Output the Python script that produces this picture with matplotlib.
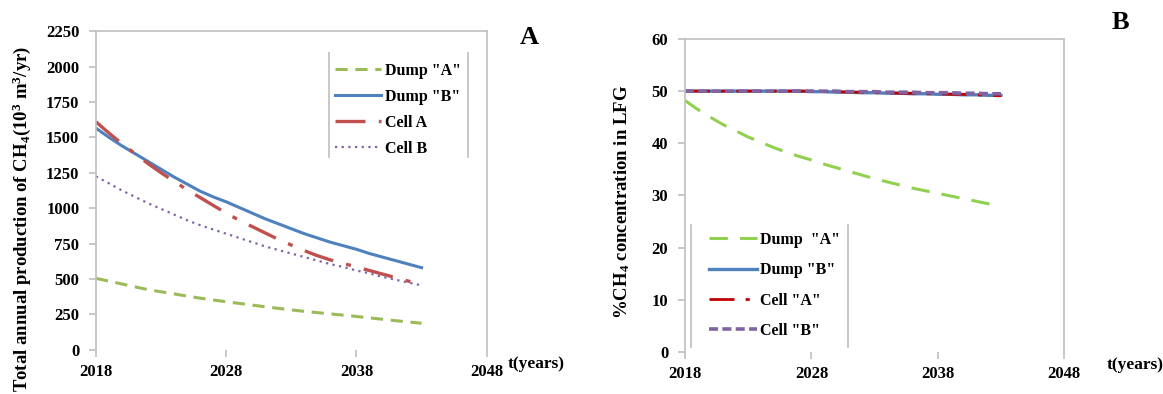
import matplotlib
matplotlib.use("Agg")
import matplotlib.pyplot as plt
from matplotlib.lines import Line2D

plt.rcParams['font.family'] = ['Liberation Serif', 'DejaVu Serif']
plt.rcParams['font.weight'] = 'bold'
plt.rcParams['mathtext.fontset'] = 'custom'
plt.rcParams['mathtext.rm'] = 'Liberation Serif:bold'
plt.rcParams['mathtext.it'] = 'Liberation Serif:bold'
plt.rcParams['mathtext.bf'] = 'Liberation Serif:bold'

years = list(range(2018, 2044))

# panel A: total annual CH4 production (10^3 m3/yr)
prod_dump_a = [505, 485, 465, 445, 425, 410, 395, 380, 365, 352, 340, 328, 316,
               304, 293, 282, 272, 263, 254, 245, 236, 226, 216, 206, 197, 188]
prod_dump_b = [1565, 1500, 1440, 1385, 1330, 1275, 1220, 1170, 1120, 1080, 1045,
               1005, 965, 925, 890, 855, 820, 790, 760, 735, 710, 680, 655, 630, 605, 580]
prod_cell_a = [1610, 1530, 1455, 1385, 1315, 1250, 1190, 1130, 1075, 1020, 965,
               915, 870, 825, 780, 740, 700, 665, 635, 610, 585, 560, 535, 510, 485, 460]
prod_cell_b = [1225, 1175, 1125, 1080, 1035, 995, 955, 915, 880, 850, 820, 790,
               760, 730, 705, 680, 655, 630, 605, 585, 560, 540, 515, 495, 475, 455]

# panel B: % CH4 in landfill gas
pct_dump_a = [48.2, 46.5, 45.0, 43.6, 42.4, 41.2, 40.2, 39.2, 38.3, 37.5, 36.8, 36.0,
              35.3, 34.6, 33.9, 33.2, 32.6, 32.0, 31.4, 30.9, 30.4, 29.9, 29.4, 28.9, 28.4, 28.0]
pct_dump_b = [50.0, 50.0, 50.0, 50.0, 50.0, 50.0, 50.0, 50.0, 50.0, 50.0, 49.9, 49.9,
              49.8, 49.8, 49.7, 49.7, 49.6, 49.6, 49.5, 49.5, 49.4, 49.4, 49.3, 49.3, 49.2, 49.2]
pct_cell_a = [50.0, 50.0, 50.0, 50.0, 50.0, 50.0, 50.0, 50.0, 50.0, 50.0, 50.0, 49.9,
              49.9, 49.8, 49.8, 49.7, 49.7, 49.6, 49.6, 49.5, 49.5, 49.4, 49.4, 49.3, 49.2, 49.1]
pct_cell_b = [50.0, 50.0, 50.0, 50.0, 50.0, 50.0, 50.0, 50.0, 50.0, 50.0, 50.0, 50.0,
              50.0, 49.9, 49.9, 49.9, 49.8, 49.8, 49.8, 49.7, 49.7, 49.7, 49.6, 49.6, 49.5, 49.5]

x_ticks = [2018, 2028, 2038, 2048]
grey = '#BFBFBF'

fig = plt.figure(figsize=(11.63, 3.94), dpi=100)
axA = fig.add_axes([0.0825, 0.112, 0.336, 0.809])
axB = fig.add_axes([0.589, 0.107, 0.326, 0.794])


def style_axis(ax, ymax, ystep):
    ax.set_xlim(2018, 2048)
    ax.set_ylim(0, ymax)
    ax.set_xticks(x_ticks)
    ax.set_yticks(range(0, ymax + 1, ystep))
    ax.spines['bottom'].set_visible(False)
    for s in ['left', 'right', 'top']:
        ax.spines[s].set_color(grey)
        ax.spines[s].set_linewidth(1.2)
    ax.tick_params(axis='both', colors=grey, labelcolor='black', labelsize=12,
                   length=5, width=1.2)
    ax.tick_params(axis='y', pad=7)
    ax.tick_params(axis='x', pad=5)
    for lab in ax.get_xticklabels() + ax.get_yticklabels():
        lab.set_fontweight('bold')


def side_lines(ax, x0, x1, y0, y1):
    for xx in (x0, x1):
        ax.add_line(Line2D([xx, xx], [y0, y1], transform=ax.transAxes,
                           color=grey, lw=1.2, clip_on=False))


# ---- panel A ----
axA.plot(years, prod_dump_a, color='#9BBB59', lw=2.2, ls=(0, (4, 2.5)), label='Dump "A"')
axA.plot(years, prod_dump_b, color='#4F81BD', lw=2.2, label='Dump "B"')
axA.plot(years, prod_cell_a, color='#C0504D', lw=2.4, ls=(0, (9, 4, 1.5, 4)), label='Cell A')
axA.plot(years, prod_cell_b, color='#8064A2', lw=1.6, ls=(0, (1, 2)), label='Cell B')
style_axis(axA, 2250, 250)
axA.set_ylabel('Total annual production of CH$_4$(10$^3$ m$^3$/yr)', fontsize=13.5,
               fontweight='bold')
axA.yaxis.set_label_coords(-0.162, 0.41)
axA.legend(loc='upper left', bbox_to_anchor=(0.575, 0.945), frameon=False,
           handlelength=2.9, handletextpad=0.2, labelspacing=0.62,
           prop={'weight': 'bold', 'size': 11.5})
side_lines(axA, 0.596, 0.951, 0.605, 0.931)

# ---- panel B ----
axB.plot(years, pct_dump_a, color='#92D050', lw=2.2, ls=(0, (6, 4)), label='Dump  "A"')
axB.plot(years, pct_dump_b, color='#4F81BD', lw=2.4, label='Dump "B"')
axB.plot(years, pct_cell_a, color='#C00000', lw=2.0, ls=(0, (9, 4, 1.5, 4)), label='Cell "A"')
axB.plot(years, pct_cell_b, color='#8064A2', lw=2.6, ls=(0, (2.5, 1.2)), label='Cell "B"')
style_axis(axB, 60, 10)
axB.set_ylabel('%CH$_4$ concentration in LFG', fontsize=13.5, fontweight='bold')
axB.yaxis.set_label_coords(-0.14, 0.48)
axB.legend(loc='lower left', bbox_to_anchor=(0.025, -0.005), frameon=False,
           handlelength=3.0, handletextpad=0.2, labelspacing=0.9,
           prop={'weight': 'bold', 'size': 11.5})
side_lines(axB, 0.016, 0.43, 0.016, 0.406)

# panel letters and x-axis titles
fig.text(0.455, 0.905, 'A', fontsize=19, fontweight='bold', ha='center', va='center')
fig.text(0.963, 0.944, 'B', fontsize=19, fontweight='bold', ha='center', va='center')
fig.text(0.461, 0.077, 't(years)', fontsize=12.5, fontweight='bold', ha='center', va='center')
fig.text(0.976, 0.074, 't(years)', fontsize=12.5, fontweight='bold', ha='center', va='center')

fig.savefig('out.png', dpi=100, facecolor='white')
